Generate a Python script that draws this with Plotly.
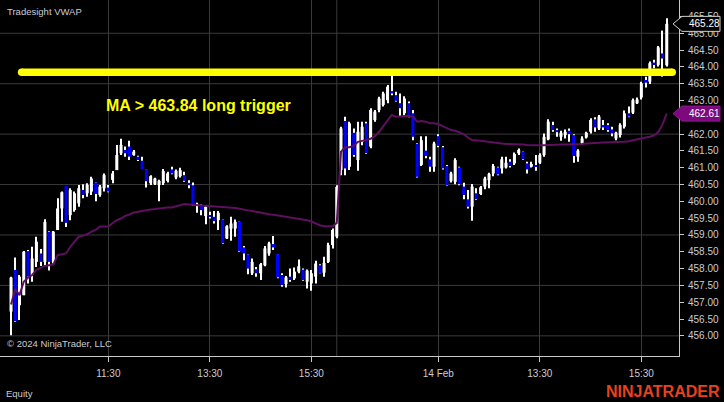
import plotly.graph_objects as go

# ---------------- data (5-minute bars, two sessions) ----------------
opens = [456.72, 457.96, 456.91, 457.21, 458.52, 457.81, 458.20, 458.45, 458.20, 459.10,
         458.20, 459.15, 459.79, 460.46, 459.59, 459.74, 459.94, 460.34, 460.24, 460.29,
         460.56, 460.19, 460.39, 460.41, 460.64, 460.93, 461.43, 461.53, 461.63, 461.38,
         461.33, 461.21, 460.96, 460.54, 460.51, 460.49, 460.54, 460.61, 460.95, 460.71,
         460.75, 460.78, 460.55, 460.48, 459.86, 459.87, 459.56, 459.59, 459.54, 459.44,
         459.46, 458.90, 459.19, 459.19, 459.41, 458.63, 458.42, 457.86, 457.98, 457.86,
         458.10, 458.45, 458.73, 458.43, 457.81, 457.54, 457.76, 457.71, 457.91, 457.97,
         457.61, 457.56, 457.76, 458.10, 457.88, 458.20, 458.70, 458.95,
         460.93, 462.39, 461.03, 462.04, 461.23, 461.77, 462.32, 461.63, 462.42, 462.72,
         462.87, 463.01, 463.28, 463.16, 462.92, 462.62, 462.92, 462.62, 461.71, 461.08,
         461.51, 461.25, 461.03, 461.94, 461.61, 461.05, 460.61, 460.58, 461.01, 460.44,
         460.06, 459.84, 460.24, 460.22, 460.44, 460.63, 460.83, 461.01, 460.98, 461.01,
         461.18, 461.13, 461.43, 461.48, 461.13, 461.03, 461.08, 461.15, 461.38, 461.84,
         462.27, 462.12, 461.92, 461.97, 462.10, 461.97, 461.33, 461.73, 461.90, 462.07,
         462.44, 462.17, 462.27, 462.27, 462.14, 461.87, 461.97, 462.22, 462.62, 462.64,
         462.92, 463.09, 463.61, 463.56, 464.13, 464.06, 464.40, 464.05]
highs = [457.76, 458.33, 457.81, 458.52, 458.55, 458.65, 458.95, 458.58, 459.47, 459.12,
         459.12, 460.09, 460.29, 460.46, 460.39, 460.29, 460.49, 460.51, 460.54, 460.73,
         460.56, 460.49, 460.83, 460.49, 460.90, 461.68, 461.86, 461.63, 461.80, 461.53,
         461.36, 461.33, 460.96, 460.78, 460.70, 460.64, 460.96, 460.88, 461.03, 460.95,
         461.00, 460.88, 460.63, 460.56, 459.96, 459.91, 459.86, 459.69, 459.71, 459.71,
         459.46, 459.29, 459.54, 459.46, 459.41, 458.67, 458.42, 458.30, 458.05, 458.17,
         458.67, 458.80, 458.97, 458.43, 457.86, 457.78, 458.00, 458.03, 458.27, 458.00,
         457.97, 457.96, 458.23, 458.13, 458.35, 458.77, 459.19, 460.48,
         462.22, 462.52, 462.37, 462.17, 462.37, 462.37, 462.37, 462.77, 462.72, 463.11,
         463.26, 463.46, 463.81, 463.26, 463.21, 463.13, 462.97, 462.72, 461.73, 461.94,
         461.94, 461.33, 461.77, 462.00, 461.65, 461.08, 460.88, 461.28, 461.03, 460.55,
         460.34, 460.52, 460.39, 460.46, 460.73, 460.85, 461.11, 461.03, 461.33, 461.33,
         461.25, 461.45, 461.57, 461.48, 461.18, 461.18, 461.38, 461.43, 462.02, 462.44,
         462.37, 462.17, 462.10, 462.14, 462.17, 462.00, 461.55, 461.94, 462.07, 462.47,
         462.50, 462.57, 462.42, 462.32, 462.22, 462.07, 462.32, 462.70, 462.82, 463.06,
         463.09, 463.56, 463.71, 464.16, 464.21, 464.62, 465.08, 465.45]
lows = [456.02, 456.42, 456.47, 457.21, 457.56, 457.61, 458.05, 458.08, 458.10, 457.94,
        458.15, 459.15, 459.39, 459.24, 459.44, 459.69, 459.84, 460.09, 460.14, 460.19,
        460.00, 460.14, 460.29, 460.27, 460.54, 460.93, 461.38, 461.33, 461.23, 461.36,
        461.20, 460.96, 460.41, 460.49, 460.49, 460.00, 460.49, 460.56, 460.81, 460.66,
        460.71, 460.58, 460.39, 459.87, 459.66, 459.59, 459.32, 459.49, 459.34, 459.15,
        458.73, 458.88, 458.83, 458.95, 458.50, 458.25, 457.83, 457.81, 457.76, 457.66,
        458.07, 458.38, 458.55, 457.71, 457.46, 457.44, 457.61, 457.66, 457.86, 457.64,
        457.41, 457.34, 457.56, 457.86, 457.76, 458.17, 458.60, 458.90,
        460.78, 460.78, 460.93, 461.33, 460.91, 461.67, 461.41, 461.58, 462.37, 462.65,
        462.82, 462.92, 463.16, 462.97, 462.52, 462.54, 462.50, 461.82, 460.71, 461.05,
        461.28, 460.88, 460.88, 461.61, 460.95, 460.46, 460.56, 460.51, 460.48, 460.06,
        459.79, 459.42, 460.04, 460.19, 460.36, 460.39, 460.75, 460.78, 460.83, 460.98,
        461.01, 461.08, 461.38, 461.23, 460.83, 461.01, 460.91, 461.11, 461.33, 461.82,
        462.07, 461.92, 461.80, 461.87, 461.77, 461.15, 461.18, 461.68, 461.87, 462.02,
        462.07, 462.12, 462.12, 462.07, 461.94, 461.82, 461.90, 462.17, 462.50, 462.60,
        462.90, 463.03, 463.39, 463.49, 463.96, 464.01, 463.71, 464.01]
closes = [457.73, 456.44, 457.76, 458.50, 457.76, 458.30, 458.80, 458.20, 459.39, 458.20,
          459.10, 459.79, 460.27, 459.36, 460.34, 460.24, 460.39, 460.19, 460.49, 460.68,
          460.22, 460.44, 460.78, 460.29, 460.83, 461.38, 461.68, 461.43, 461.33, 461.48,
          461.23, 460.96, 460.60, 460.75, 460.68, 460.61, 460.90, 460.83, 460.83, 460.91,
          460.93, 460.61, 460.48, 459.89, 459.92, 459.74, 459.84, 459.54, 459.41, 459.66,
          458.75, 459.26, 459.34, 459.39, 458.52, 458.45, 458.00, 458.20, 457.86, 458.13,
          458.60, 458.75, 458.63, 457.74, 457.51, 457.74, 457.66, 457.91, 458.07, 457.66,
          457.94, 457.86, 458.15, 457.87, 458.17, 458.70, 459.15, 460.43,
          462.17, 460.98, 462.32, 461.38, 462.07, 462.22, 461.43, 462.72, 462.67, 463.06,
          463.21, 463.41, 463.21, 462.99, 462.77, 463.06, 462.52, 461.92, 460.73, 461.82,
          461.35, 461.03, 461.72, 461.65, 460.98, 460.47, 460.83, 461.23, 460.51, 460.19,
          459.84, 460.44, 460.06, 460.42, 460.68, 460.81, 461.05, 460.80, 461.25, 461.15,
          461.05, 461.41, 461.53, 461.25, 460.95, 461.11, 461.03, 461.38, 461.92, 462.37,
          462.12, 462.06, 462.04, 462.07, 462.00, 461.35, 461.51, 461.87, 462.04, 462.42,
          462.20, 462.52, 462.20, 462.12, 462.02, 462.04, 462.27, 462.62, 462.52, 463.01,
          463.03, 463.51, 463.53, 464.11, 464.08, 464.58, 464.25, 465.28]
vwap = [456.93, 457.39, 457.21, 457.61, 457.73, 457.81, 457.96, 458.01, 458.08, 458.10,
        458.12, 458.40, 458.43, 458.45, 458.65, 458.80, 458.95, 458.98, 459.02, 459.10,
        459.15, 459.25, 459.25, 459.25, 459.35, 459.44, 459.49, 459.57, 459.61, 459.67,
        459.69, 459.72, 459.74, 459.76, 459.77, 459.79, 459.81, 459.82, 459.82, 459.86,
        459.89, 459.92, 459.91, 459.90, 459.89, 459.88, 459.88, 459.87, 459.87, 459.86,
        459.84, 459.82, 459.81, 459.80, 459.78, 459.75, 459.73, 459.71, 459.69, 459.66,
        459.64, 459.62, 459.60, 459.58, 459.56, 459.54, 459.53, 459.51, 459.50, 459.48,
        459.44, 459.40, 459.34, 459.29, 459.26, 459.25, 459.26, 459.36,
        461.48, 461.61, 461.61, 461.65, 461.77, 461.80, 461.82, 461.86, 461.94, 462.07,
        462.24, 462.42, 462.57, 462.52, 462.54, 462.54, 462.54, 462.52, 462.37, 462.39,
        462.37, 462.32, 462.32, 462.30, 462.24, 462.17, 462.12, 462.10, 462.06, 462.00,
        461.90, 461.82, 461.82, 461.80, 461.78, 461.76, 461.75, 461.73, 461.72, 461.71,
        461.71, 461.70, 461.69, 461.69, 461.68, 461.67, 461.67, 461.67, 461.67, 461.68,
        461.68, 461.68, 461.69, 461.69, 461.69, 461.70, 461.70, 461.71, 461.72, 461.72,
        461.73, 461.74, 461.75, 461.75, 461.75, 461.75, 461.76, 461.77, 461.79, 461.82,
        461.86, 461.88, 461.90, 461.92, 461.96, 462.06, 462.29, 462.61]

slots = list(range(1, len(opens) + 1))          # bar slot index (close time)
tick_slots = [24, 48, 72, 102, 126, 150]
tick_text = ["11:30", "13:30", "15:30", "14 Feb", "13:30", "15:30"]
session_break = 78
price_ticks = [456.0, 456.5, 457.0, 457.5, 458.0, 458.5, 459.0, 459.5, 460.0, 460.5,
               461.0, 461.5, 462.0, 463.0, 463.5, 464.0, 464.5, 465.0, 465.5]
price_tick_text = ["456.00", "456.50", "457.00", "457.50", "458.00", "458.50", "459.00",
                   "459.50", "460.00", "460.50", "461.00", "461.50", "462.00",
                   "463.00", "463.50", "464.00", "464.50", "465.00", "465.50"]
grid_levels = [456.0, 457.5, 459.0, 460.5, 462.0, 463.5, 465.0]
trigger_level = 463.84
last_price = 465.28
last_vwap = 462.61

# ---------------- style / layout constants ----------------
x_range = [-1.61, 158.9]
y_range = [455.40, 465.99]
trigger_span = [3.5, 157.3]
UP, DOWN = "#ffffff", "#0000ff"
TXT = "#c9cdd3"
GRID = "#3a3a3a"
FONT = "Liberation Sans, Arial, sans-serif"

body_base = [min(o, c) for o, c in zip(opens, closes)]
body_h = [abs(c - o) for o, c in zip(opens, closes)]
body_col = [UP if c >= o else DOWN for o, c in zip(opens, closes)]
wick_h = [h - l for h, l in zip(highs, lows)]

fig = go.Figure()
fig.add_trace(go.Bar(x=slots, y=wick_h, base=lows, width=0.24,
                     marker=dict(color=UP, line=dict(width=0)), hoverinfo="skip"))
fig.add_trace(go.Bar(x=slots, y=body_h, base=body_base, width=0.72,
                     marker=dict(color=body_col, line=dict(width=0))))
fig.add_trace(go.Scatter(x=slots, y=vwap, mode="lines",
                         line=dict(color="#5e0f5e", width=2)))
fig.add_trace(go.Scatter(x=trigger_span, y=[trigger_level, trigger_level],
                         mode="lines+markers",
                         line=dict(color="#ffff00", width=7.5),
                         marker=dict(color="#ffff00", size=7.5)))

shapes = []
for g in grid_levels:
    shapes.append(dict(type="line", xref="paper", x0=0, x1=1, yref="y", y0=g, y1=g,
                       line=dict(color=GRID, width=1), layer="below"))
shapes.append(dict(type="line", xref="x", x0=session_break, x1=session_break,
                   yref="paper", y0=0, y1=1, line=dict(color=GRID, width=1), layer="below"))
# price markers on the right axis
marker_path = "M -6,0 L 3,7.5 L 41,7.5 L 41,-7.5 L 3,-7.5 Z"
shapes.append(dict(type="path", xref="paper", xsizemode="pixel", xanchor=1,
                   yref="y", ysizemode="pixel", yanchor=last_vwap, path=marker_path,
                   fillcolor="#7d0a7d", line=dict(color="#8e1a8e", width=1), layer="above"))
shapes.append(dict(type="path", xref="paper", xsizemode="pixel", xanchor=1,
                   yref="y", ysizemode="pixel", yanchor=last_price, path=marker_path,
                   fillcolor="#000000", line=dict(color="#d0d0d0", width=1), layer="above"))

annotations = [
    dict(text="Tradesight VWAP", xref="paper", yref="paper", x=0, y=1, xshift=5, yshift=-11,
         xanchor="left", yanchor="middle", showarrow=False, font=dict(family=FONT, size=9.5, color=TXT)),
    dict(text="MA > 463.84 long trigger", xref="paper", yref="paper", x=104 / 679, y=1, yshift=-105,
         xanchor="left", yanchor="middle", showarrow=False,
         font=dict(family=FONT, size=16, color="#ffff00", weight="bold")),
    dict(text="© 2024 NinjaTrader, LLC", xref="paper", yref="paper", x=0, y=0, xshift=5, yshift=12.5,
         xanchor="left", yanchor="middle", showarrow=False, font=dict(family=FONT, size=9.5, color=TXT)),
    dict(text="Equity", xref="paper", yref="paper", x=0, y=0, xshift=4, yshift=-37,
         xanchor="left", yanchor="middle", showarrow=False, font=dict(family=FONT, size=9.5, color=TXT)),
    dict(text="NINJATRADER", xref="paper", yref="paper", x=1, y=0, xshift=43, yshift=-35,
         xanchor="right", yanchor="middle", showarrow=False,
         font=dict(family=FONT, size=16, color="#e8411f", weight="bold")),
    dict(text=f"{last_price:.2f}", xref="paper", yref="y", x=1, y=last_price, xshift=8,
         xanchor="left", yanchor="middle", showarrow=False, font=dict(family=FONT, size=10, color="#ffffff")),
    dict(text=f"{last_vwap:.2f}", xref="paper", yref="y", x=1, y=last_vwap, xshift=8,
         xanchor="left", yanchor="middle", showarrow=False, font=dict(family=FONT, size=10, color="#ffffff")),
]

fig.update_layout(
    width=724, height=402,
    margin=dict(l=0, r=45, t=0, b=46),
    paper_bgcolor="#000000", plot_bgcolor="#000000",
    barmode="overlay", showlegend=False,
    font=dict(family=FONT, color=TXT, size=10),
    shapes=shapes, annotations=annotations,
    xaxis=dict(range=x_range, tickmode="array", tickvals=tick_slots, ticktext=tick_text,
               showgrid=True, gridcolor=GRID, gridwidth=1, zeroline=False,
               showline=True, linecolor="#c8c8c8", linewidth=1,
               ticks="outside", ticklen=5, tickcolor="#c8c8c8",
               tickfont=dict(family=FONT, size=10, color=TXT), ticklabelstandoff=3),
    yaxis=dict(range=y_range, side="right", tickmode="array", tickvals=price_ticks,
               ticktext=price_tick_text, showgrid=False, zeroline=False,
               showline=True, linecolor="#c8c8c8", linewidth=1,
               ticks="outside", ticklen=4, tickcolor="#c8c8c8",
               tickfont=dict(family=FONT, size=10, color=TXT), ticklabelstandoff=2),
)

fig.write_html("out.html", config={"displayModeBar": False},
               post_script="document.body.style.margin='0';document.body.style.overflow='hidden';"
                           "document.body.style.background='#000';")
